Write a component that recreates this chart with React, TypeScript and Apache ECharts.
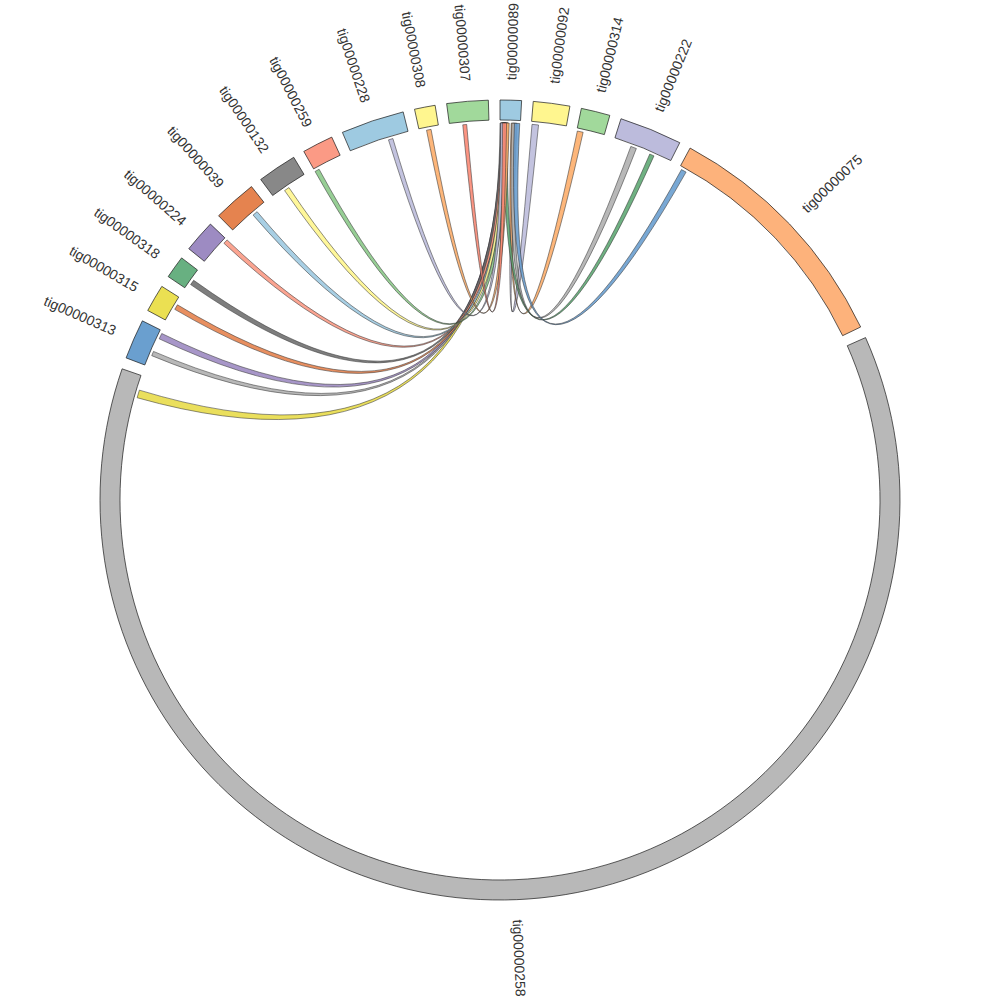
import React, { useEffect, useRef } from "react";
import * as echarts from "echarts";

// Contigs, clockwise from the top
const contigs = [
  "tig00000089", "tig00000092", "tig00000314", "tig00000222", "tig00000075",
  "tig00000258", "tig00000313", "tig00000315", "tig00000318", "tig00000224",
  "tig00000039", "tig00000132", "tig00000259", "tig00000228", "tig00000308",
  "tig00000307",
];
// Contig lengths (10 kb units)
const contigLengths = [31, 53, 42, 91, 360, 2231, 58, 40, 33, 47, 63, 57, 45, 92, 30, 60];
const contigColors = [
  "#9ecae1", "#fff68f", "#a1d99b", "#bcbbdc", "#fdb27b",
  "#b8b8b8", "#6a9fcf", "#ebe052", "#68b081", "#9d8bc2",
  "#e5834f", "#888888", "#fb9a85", "#9ecae1", "#fff68f",
  "#a1d99b",
];
const gapLength = 16.69;

// Links: every link joins a region of a contig to a region of tig00000089
const linkTarget = "tig00000089";
const linkSources = [
  "tig00000092", "tig00000314", "tig00000222", "tig00000222", "tig00000075",
  "tig00000258", "tig00000313", "tig00000313", "tig00000315", "tig00000318",
  "tig00000224", "tig00000039", "tig00000132", "tig00000259", "tig00000228",
  "tig00000308", "tig00000307",
];
const linkSourceStart = [1, 1, 27, 58, 4, 2197, 17, 45, 21, 9, 40, 38, 19, 0, 60, 11, 20];
const linkSourceEnd = [11, 10, 36, 65, 12, 2209, 24, 54, 29, 17, 47, 46, 27, 7, 67, 18, 26];
const linkTargetStart = [20, 17, 18, 6, 22, 2, 3, 1, 4, 0, 2, 5, 3, 6, 1, 7, 4];
const linkTargetEnd = [26, 22, 25, 12, 30, 9, 9, 8, 11, 7, 8, 12, 10, 13, 7, 14, 10];
const linkColors = [
  "#bcbddc", "#fdae6b", "#b0b0b0", "#5fa874", "#6a9fcf",
  "#e8dc4a", "#b0b0b0", "#9d8bc2", "#e5834f", "#707070",
  "#fb9a85", "#9ecae1", "#fff68f", "#8cc98a", "#bcbddc",
  "#fdae6b", "#fb8a75",
];

const INNER_R = 380;
const OUTER_R = 400;
const LINK_R = 377;
const LABEL_R = 420;

export default function App() {
  const ref = useRef<HTMLDivElement>(null);

  useEffect(() => {
    if (!ref.current) return;
    const chart = echarts.init(ref.current, null, { renderer: "svg" });

    const offsets: number[] = [];
    let acc = 0;
    contigLengths.forEach((len) => {
      offsets.push(acc);
      acc += len + gapLength;
    });
    const total = acc;

    const segData = contigs.map((_, i) => [offsets[i], offsets[i] + contigLengths[i], i]);
    const tIdx = contigs.indexOf(linkTarget);
    const linkData = linkSources.map((s, k) => {
      const si = contigs.indexOf(s);
      return [
        offsets[si] + linkSourceStart[k],
        offsets[si] + linkSourceEnd[k],
        offsets[tIdx] + linkTargetStart[k],
        offsets[tIdx] + linkTargetEnd[k],
        k,
      ];
    });

    const segRender = (params: any, api: any) => {
      const i = api.value(2);
      const a0 = api.value(0);
      const a1 = api.value(1);
      const cs = params.coordSys;
      const cx = cs.cx;
      const cy = cs.cy;
      const pi0 = api.coord([INNER_R, a0]);
      const po0 = api.coord([OUTER_R, a0]);
      const po1 = api.coord([OUTER_R, a1]);
      let sa = Math.atan2(po0[1] - cy, po0[0] - cx);
      let ea = Math.atan2(po1[1] - cy, po1[0] - cx);
      if (ea < sa) ea += Math.PI * 2;
      const m = api.coord([LABEL_R, (a0 + a1) / 2]);
      const dx = m[0] - cx;
      const dy = m[1] - cy;
      const ang = Math.atan2(-dy, dx);
      const right = dx >= 0;
      return {
        type: "group",
        children: [
          {
            type: "sector",
            shape: { cx, cy, r0: pi0[2], r: po0[2], startAngle: sa, endAngle: ea, clockwise: true },
            style: { fill: contigColors[i], stroke: "#1a1a1a", lineWidth: 0.7 },
          },
          {
            type: "text",
            x: m[0],
            y: m[1],
            rotation: right ? ang : ang - Math.PI,
            style: {
              text: contigs[i],
              align: right ? "left" : "right",
              verticalAlign: "middle",
              fill: "#333",
              font: '14px "Liberation Sans", Arial, sans-serif',
            },
          },
        ],
      };
    };

    const linkRender = (params: any, api: any) => {
      const k = api.value(4);
      const cs = params.coordSys;
      const cx = cs.cx;
      const cy = cs.cy;
      const s0 = api.coord([LINK_R, api.value(0)]);
      const s1 = api.coord([LINK_R, api.value(1)]);
      const t0 = api.coord([LINK_R, api.value(2)]);
      const t1 = api.coord([LINK_R, api.value(3)]);
      const f = (p: number[]) => p[0].toFixed(2) + " " + p[1].toFixed(2);
      const c = cx.toFixed(2) + " " + cy.toFixed(2);
      const d =
        "M " + f(s0) + " L " + f(s1) + " Q " + c + " " + f(t0) +
        " L " + f(t1) + " Q " + c + " " + f(s0) + " Z";
      return {
        type: "path",
        shape: { pathData: d },
        style: { fill: linkColors[k], stroke: "#333", lineWidth: 0.6, opacity: 0.9 },
      };
    };

    chart.setOption({
      animation: false,
      backgroundColor: "#ffffff",
      polar: { center: ["50%", "50%"], radius: OUTER_R },
      angleAxis: {
        type: "value",
        min: 0,
        max: total,
        startAngle: 90,
        clockwise: true,
        show: false,
      },
      radiusAxis: { type: "value", min: 0, max: OUTER_R, show: false },
      series: [
        {
          type: "custom",
          coordinateSystem: "polar",
          clip: false,
          silent: true,
          renderItem: linkRender,
          data: linkData,
        },
        {
          type: "custom",
          coordinateSystem: "polar",
          clip: false,
          silent: true,
          renderItem: segRender,
          data: segData,
        },
      ],
    });

    return () => chart.dispose();
  }, []);

  return (
    <div
      ref={ref}
      style={{ position: "absolute", left: 0, top: 0, width: 1000, height: 1000, background: "#fff" }}
    />
  );
}
